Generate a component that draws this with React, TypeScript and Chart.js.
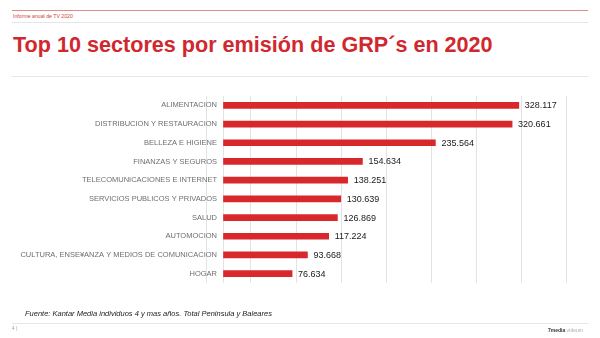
import React, { useEffect, useRef } from "react";
import { Chart, registerables } from "chart.js";

Chart.register(...registerables);

const categories = [
  "ALIMENTACION",
  "DISTRIBUCION Y RESTAURACION",
  "BELLEZA E HIGIENE",
  "FINANZAS Y SEGUROS",
  "TELECOMUNICACIONES E INTERNET",
  "SERVICIOS PUBLICOS Y PRIVADOS",
  "SALUD",
  "AUTOMOCION",
  "CULTURA, ENSE¥ANZA Y MEDIOS DE COMUNICACION",
  "HOGAR",
];
const grpValues = [328117, 320661, 235564, 154634, 138251, 130639, 126869, 117224, 93668, 76634];
const valueLabels = ["328.117", "320.661", "235.564", "154.634", "138.251", "130.639", "126.869", "117.224", "93.668", "76.634"];
const gridValues = [-19000, 0, 31000, 81000, 131000, 181000, 231000, 281000, 331000, 381000];
const axisMin = 0;
const axisMax = 381000;

const FONT = "'Liberation Sans', Arial, sans-serif";
const RED = "#d8282c";
const GRID = "#e3e3e3";

const extraGridPlugin = {
  id: "extraGrid",
  beforeDraw(chart: any) {
    const ctx = chart.ctx;
    const xs = chart.scales.x;
    const area = chart.chartArea;
    ctx.save();
    ctx.strokeStyle = GRID;
    ctx.lineWidth = 1;
    gridValues
      .filter((v) => v < xs.min || v > xs.max)
      .forEach((v) => {
        const px = Math.round(xs.getPixelForValue(v)) + 0.5;
        ctx.beginPath();
        ctx.moveTo(px, area.top);
        ctx.lineTo(px, area.bottom);
        ctx.stroke();
      });
    ctx.restore();
  },
};

const valueLabelPlugin = {
  id: "valueLabels",
  afterDatasetsDraw(chart: any) {
    const ctx = chart.ctx;
    const meta = chart.getDatasetMeta(0);
    ctx.save();
    ctx.font = `9px ${FONT}`;
    ctx.fillStyle = "#1a1a1a";
    ctx.textAlign = "left";
    ctx.textBaseline = "middle";
    meta.data.forEach((bar: any, i: number) => {
      ctx.fillText(valueLabels[i], bar.x + 6, bar.y + 0.5);
    });
    ctx.restore();
  },
};

export default function App() {
  const ref = useRef<HTMLCanvasElement | null>(null);

  useEffect(() => {
    if (!ref.current) return;
    const chart = new Chart(ref.current, {
      type: "bar",
      data: {
        labels: categories,
        datasets: [
          {
            data: grpValues,
            backgroundColor: RED,
            barThickness: 6,
            borderWidth: 0,
          },
        ],
      },
      options: {
        indexAxis: "y",
        responsive: false,
        animation: false,
        devicePixelRatio: 1,
        layout: { padding: { top: 96, bottom: 55, right: 33.5, left: 0 } },
        plugins: { legend: { display: false }, tooltip: { enabled: false } },
        scales: {
          x: {
            type: "linear",
            min: axisMin,
            max: axisMax,
            afterBuildTicks: (scale: any) => {
              scale.ticks = gridValues.filter((v) => v >= axisMin && v <= axisMax).map((v) => ({ value: v }));
            },
            afterFit: (scale: any) => {
              scale.height = 0;
            },
            ticks: { display: false },
            grid: { color: GRID, lineWidth: 1, drawTicks: false },
            border: { display: false },
          },
          y: {
            type: "category",
            afterFit: (scale: any) => {
              scale.width = 223;
            },
            ticks: {
              padding: 6,
              color: "#6e6e6e",
              font: { family: FONT, size: 7.5 },
            },
            grid: { display: false, drawTicks: false },
            border: { display: false },
          },
        },
      },
      plugins: [extraGridPlugin, valueLabelPlugin],
    });
    return () => chart.destroy();
  }, []);

  const abs = (s: React.CSSProperties): React.CSSProperties => ({ position: "absolute", margin: 0, whiteSpace: "nowrap", ...s });

  return (
    <div style={{ position: "fixed", left: 0, top: 0, width: 600, height: 338, background: "#fff", fontFamily: FONT, overflow: "hidden" }}>
      <div style={abs({ left: 12, top: 10, width: 576, height: 1, background: "#e08a8a" })} />
      <div style={abs({ left: 13, top: 13, fontSize: 5.2, lineHeight: "6px", color: "#d04040" })}>Informe anual de TV 2020</div>
      <div style={abs({ left: 12, top: 22, width: 576, height: 1, background: "#e6e6e6" })} />
      <div style={abs({ left: 13, top: 34, fontSize: 21.6, lineHeight: "22px", fontWeight: 700, color: "#d0282e" })}>
        Top 10 sectores por emisión de GRP´s en 2020
      </div>
      <div style={abs({ left: 12, top: 76, width: 576, height: 1, background: "#e6e6e6" })} />
      <canvas ref={ref} width={600} height={338} style={{ position: "absolute", left: 0, top: 0, width: 600, height: 338 }} />
      <div style={abs({ left: 25, top: 310, fontSize: 7.5, lineHeight: "8px", fontStyle: "italic", color: "#222" })}>
        Fuente: Kantar Media individuos 4 y mas años. Total Peninsula y Baleares
      </div>
      <div style={abs({ left: 12, top: 323, width: 576, height: 1, background: "#e6e6e6" })} />
      <div style={abs({ left: 12, top: 326, fontSize: 4.5, lineHeight: "5px", color: "#999" })}>4 |</div>
      <div style={abs({ left: 548, top: 327, fontSize: 5, lineHeight: "6px", color: "#aaa" })}>
        <span style={{ color: "#333", fontWeight: 700 }}>7media</span> vídeum
      </div>
    </div>
  );
}
